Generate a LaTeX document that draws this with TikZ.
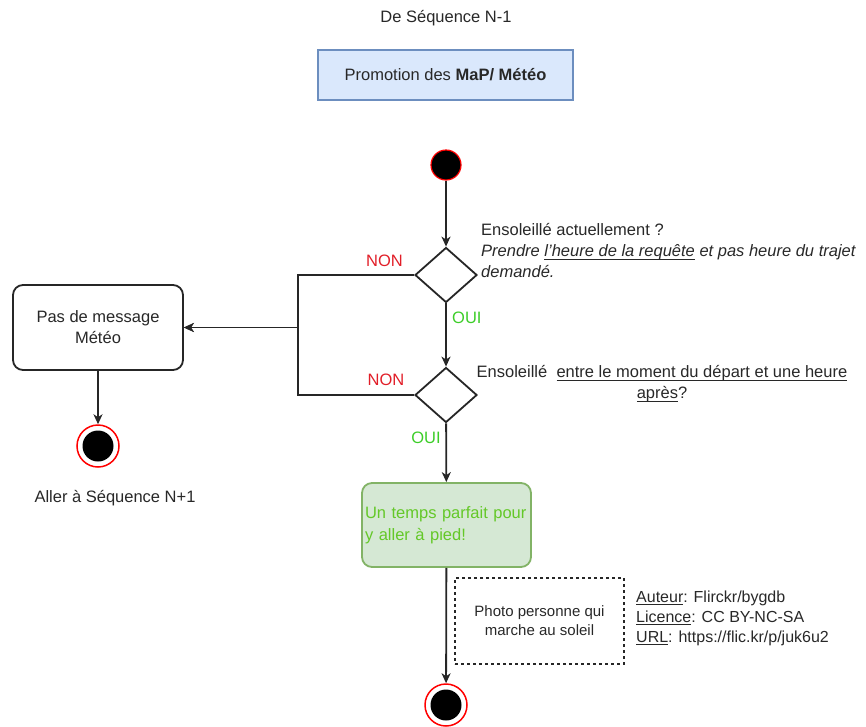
\documentclass[tikz,border=0pt]{standalone}
\usepackage{fontspec}
\setmainfont{Liberation Sans}
\usetikzlibrary{shapes.geometric,arrows.meta}
\newsavebox{\myulbox}
\newcommand{\myul}[1]{\sbox{\myulbox}{#1}\rlap{\vrule height -2pt depth 3.1pt width \wd\myulbox}\usebox{\myulbox}}
\definecolor{txt}{RGB}{40,40,40}
\definecolor{nonred}{RGB}{225,30,40}
\definecolor{ouigreen}{RGB}{60,205,40}
\definecolor{boxgreentxt}{RGB}{100,200,40}
\definecolor{bluefill}{RGB}{218,232,252}
\definecolor{bluestroke}{RGB}{108,142,191}
\definecolor{greenfill}{RGB}{213,232,212}
\definecolor{greenstroke}{RGB}{130,179,102}
\definecolor{startred}{RGB}{255,0,0}
\tikzset{
  mainfont/.style={font=\fontsize{16.5}{21}\selectfont, text=txt},
  smallfont/.style={font=\fontsize{15}{19}\selectfont, text=txt},
  flowline/.style={draw=black!85, line width=1.8pt},
  arr/.style={flowline, -{Stealth[length=10pt,width=9pt,inset=3pt]}},
  decision/.style={diamond, draw=black!85, line width=1.8pt, minimum width=62pt, minimum height=55pt, inner sep=0pt},
  actionbox/.style={rectangle, rounded corners=10pt, line width=1.8pt, inner sep=0pt},
  startdot/.style={circle, fill=black, draw=startred, line width=1.2pt, minimum size=30pt, inner sep=0pt},
  endring/.style={circle, fill=white, draw=startred, line width=1.5pt, minimum size=42pt, inner sep=0pt},
  enddisc/.style={circle, fill=black, minimum size=31pt, inner sep=0pt},
  nonlbl/.style={font=\fontsize{16.5}{20}\selectfont, text=nonred, inner sep=0pt},
  ouilbl/.style={font=\fontsize{16.5}{20}\selectfont, text=ouigreen, inner sep=0pt},
}
\begin{document}
\begin{tikzpicture}[x=1pt,y=-1pt]
\useasboundingbox (0,0) rectangle (866,726);
% title
\node[mainfont, inner sep=0pt] (title) at (446,18) {De Séquence N-1};
\node[mainfont, draw=bluestroke, fill=bluefill, line width=1.8pt, minimum width=255pt, minimum height=50pt, inner sep=0pt] (promo) at (445.5,75) {Promotion des \textbf{MaP/ Météo}};
% start
\node[startdot] (start) at (446,165) {};
% decision 1
\node[decision] (d1) at (446,275) {};
\node[mainfont, anchor=west, align=left, inner sep=0pt] (t1) at (481,251)
  {Ensoleillé actuellement ?\\\textit{Prendre \myul{l'heure de la requête} et pas heure du trajet}\\\textit{demandé.}};
\node[nonlbl] (non1) at (384.5,261) {NON};
\node[ouilbl, anchor=west] (oui1) at (452,318) {OUI};
% decision 2
\node[decision] (d2) at (446,395) {};
\node[mainfont, align=center, inner sep=0pt] (t2) at (662,384)
  {Ensoleillé\ \ \myul{entre le moment du départ et une heure}\\\myul{après}?};
\node[nonlbl] (non2) at (386,380) {NON};
\node[ouilbl] (oui2) at (426,438) {OUI};
% left branch
\node[mainfont, actionbox, draw=black!85, fill=white, minimum width=170pt, minimum height=85pt, align=center] (pas) at (98,327.5) {Pas de message\\Météo};
\coordinate (c1) at (298,275);
\coordinate (c2) at (298,395);
\draw[arr] (d1.west) -- (c1) |- (pas.east);
\draw[arr] (d2.west) -- (c2) |- (pas.east);
\node[endring] (end1) at (98,446) {};
\node[enddisc] (end1in) at (98,446) {};
\draw[arr] (pas) -- (end1);
\node[mainfont, inner sep=0pt] (endlbl) at (115,498) {Aller à Séquence N+1};
% green box
\node[font=\fontsize{16.5}{22}\selectfont, text=boxgreentxt, actionbox, draw=greenstroke, fill=greenfill, minimum width=169pt, minimum height=84pt, text width=163pt, inner xsep=3pt, align=left] (green) at (446.5,525) {Un temps parfait pour\\y aller à pied!};
% main flow
\draw[arr] (start) -- (d1);
\draw[arr] (d1) -- (d2);
\draw[arr] (d2) -- (green);
\node[endring] (end2) at (446,705) {};
\node[enddisc] (end2in) at (446,705) {};
\draw[arr] (green) -- (end2);
% photo + credits
\node[smallfont, draw=black!85, line width=1.8pt, dash pattern=on 3pt off 3pt, minimum width=169pt, minimum height=86pt, align=center, inner sep=0pt] (photo) at (539.5,621) {Photo personne qui\\marche au soleil};
\node[font=\fontsize{16}{20}\selectfont, text=txt, anchor=west, align=left, inner sep=0pt] (credits) at (636,618)
  {\myul{Auteur}: Flirckr/bygdb\\\myul{Licence}: CC BY-NC-SA\\\myul{URL}: https://flic.kr/p/juk6u2};
\end{tikzpicture}
\end{document}
